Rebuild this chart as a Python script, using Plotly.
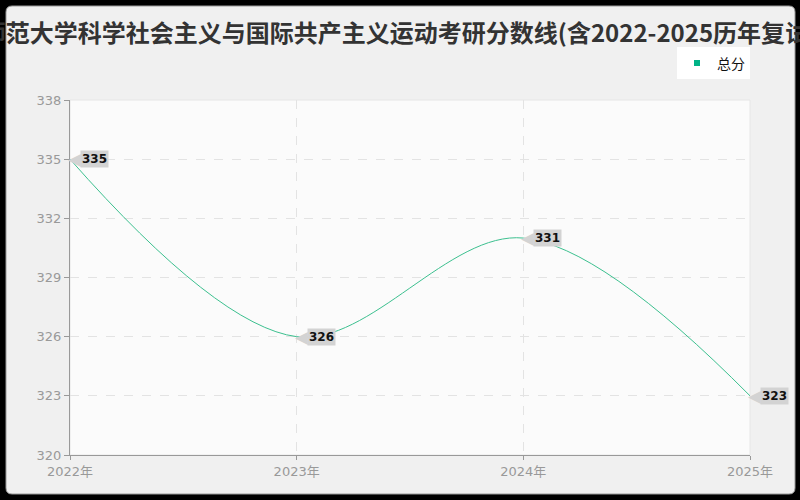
import plotly.graph_objects as go

# chart data
years = [2022, 2023, 2024, 2025]
year_labels = ['2022年', '2023年', '2024年', '2025年']
total_scores = [335, 326, 331, 323]
series_name = '总分'
title_text = '师范大学科学社会主义与国际共产主义运动考研分数线(含2022-2025历年复试)'

FONT = 'DejaVu Sans, Noto Sans CJK SC, sans-serif'
CJK_FONT = 'Noto Sans CJK SC, sans-serif'
LINE_COLOR = '#3cc08f'
LABEL_BG = '#d3d3d3'

W, H = 800, 500
ML, MR, MT, MB = 70, 50, 100, 45
PW, PH = W - ML - MR, H - MT - MB


def px_to_paper(px, py):
    """ pixel position on the page -> paper coordinates of the plot area """
    return (px - ML) / PW, (H - MB - py) / PH


def rounded_rect(x0, y0, x1, y1, r):
    """ SVG path of a rounded rectangle, given in page pixels """
    ax0, ay0 = px_to_paper(x0, y0)
    ax1, ay1 = px_to_paper(x1, y1)
    rx, ry = r / PW, r / PH
    pts = [f'M {ax0 + rx} {ay0}',
           f'L {ax1 - rx} {ay0}',
           f'Q {ax1} {ay0} {ax1} {ay0 - ry}',
           f'L {ax1} {ay1 + ry}',
           f'Q {ax1} {ay1} {ax1 - rx} {ay1}',
           f'L {ax0 + rx} {ay1}',
           f'Q {ax0} {ay1} {ax0} {ay1 + ry}',
           f'L {ax0} {ay0 - ry}',
           f'Q {ax0} {ay0} {ax0 + rx} {ay0}']
    return ' '.join(pts) + ' Z'


fig = go.Figure()

fig.add_trace(go.Scatter(
    x=years, y=total_scores, name=series_name,
    mode='lines',
    line=dict(color=LINE_COLOR, width=1, shape='spline', smoothing=1),
    showlegend=False,
))
# legend entry with a square marker
fig.add_trace(go.Scatter(
    x=[None], y=[None], name=series_name, mode='markers',
    marker=dict(symbol='square', size=6, color='#00b386'),
))

# value callouts: a pointer glyph plus a grey box
for xv, yv in zip(years, total_scores):
    fig.add_annotation(
        x=xv, y=yv, text='◀', showarrow=False,
        xanchor='left', yanchor='middle', xshift=-3,
        borderpad=0,
        font=dict(family='DejaVu Sans', size=17, color=LABEL_BG),
    )
    fig.add_annotation(
        x=xv, y=yv, text=f'<b>{yv}</b>', showarrow=False,
        xanchor='left', yanchor='middle', xshift=10,
        bgcolor=LABEL_BG, borderpad=1,
        font=dict(family='DejaVu Sans', size=12, color='#111'),
    )

fig.update_layout(
    shapes=[
        dict(type='path', xref='paper', yref='paper', layer='below',
             path=rounded_rect(6, 6, 795, 494, 6),
             fillcolor='#f0f0f0', line=dict(color='#9a9a9a', width=1)),
        dict(type='rect', xref='x domain', yref='y domain', layer='below',
             x0=0, x1=1, y0=0, y1=1,
             fillcolor='#fbfbfb', line=dict(color='#e6e6e6', width=1)),
    ],
)

fig.update_layout(
    width=W, height=H,
    margin=dict(l=ML, r=MR, t=MT, b=MB),
    paper_bgcolor='#000000',
    plot_bgcolor='rgba(0,0,0,0)',
    font=dict(family=FONT, size=13, color='#999'),
    title=dict(text=f'<b>{title_text}</b>', x=0.5, xref='container',
               xanchor='center', y=0.932, yanchor='middle',
               font=dict(family=CJK_FONT, size=24, color='#333')),
    legend=dict(x=1.0, xanchor='right', y=1.148, yanchor='top',
                bgcolor='#ffffff', borderwidth=0,
                font=dict(family=CJK_FONT, size=14, color='#111'),
                itemwidth=30),
    xaxis=dict(range=[2022, 2025], tickvals=years, ticktext=year_labels,
               showgrid=True, gridcolor='#e3e3e3', griddash='dash',
               showline=True, linecolor='#999', linewidth=1,
               ticks='outside', ticklen=4, tickcolor='#999',
               zeroline=False, tickfont=dict(size=13, color='#999')),
    yaxis=dict(range=[320, 338], dtick=3, tick0=320,
               showgrid=True, gridcolor='#e3e3e3', griddash='dash',
               showline=True, linecolor='#999', linewidth=1,
               ticks='outside', ticklen=5, tickcolor='#999',
               zeroline=False, tickfont=dict(size=13, color='#999')),
)

fig.write_html('out.html',
               config={'displayModeBar': False},
               post_script="document.body.style.margin='0';")
